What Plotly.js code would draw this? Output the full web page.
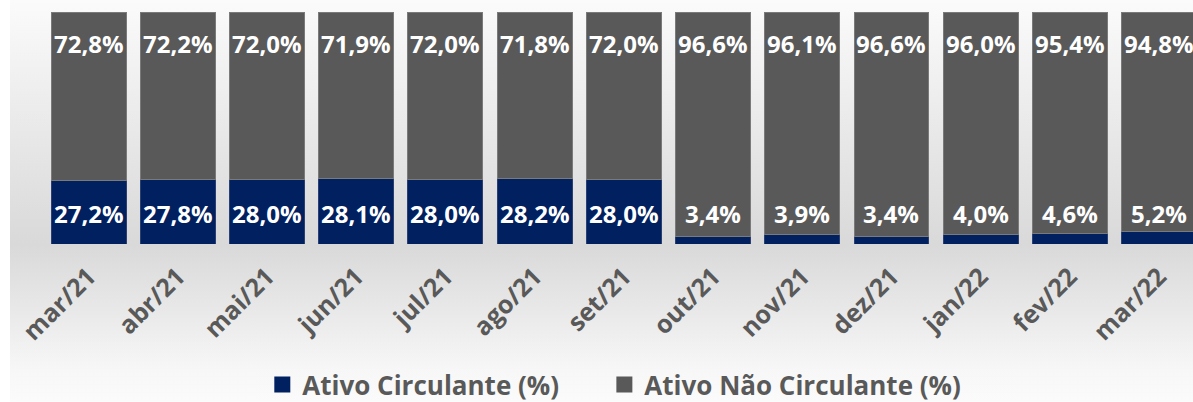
<!DOCTYPE html>
<html>
<head>
<meta charset="utf-8">
<script src="https://cdn.plot.ly/plotly-3.0.1.min.js"></script>
<style>
html,body{margin:0;padding:0;background:#ffffff;}
#chart{width:1193px;height:402px;
background:
 linear-gradient(to right,#ffffff 0,#ffffff 10px,rgba(255,255,255,0) 10px),
 linear-gradient(to bottom,#fbfbfb 0px,#eaeaea 120px,#d9d9d9 245px,#e6e6e6 300px,#f7f7f7 370px,#fbfbfb 402px);}
</style>
</head>
<body>
<div id="chart"></div>
<script>
const months = ["mar/21","abr/21","mai/21","jun/21","jul/21","ago/21","set/21","out/21","nov/21","dez/21","jan/22","fev/22","mar/22"];
const ativoCirculante = [27.2,27.8,28.0,28.1,28.0,28.2,28.0,3.4,3.9,3.4,4.0,4.6,5.2];
const ativoNaoCirculante = [72.8,72.2,72.0,71.9,72.0,71.8,72.0,96.6,96.1,96.6,96.0,95.4,94.8];
const seriesNames = ['Ativo Circulante (%)','Ativo Não Circulante (%)'];

const fmt = v => v.toFixed(1).replace('.', ',') + '%';
const labelFont = {family:'"Open Sans", sans-serif', size:24, color:'#ffffff', weight:700};
const gray = '#595959', navy = '#002060';
const legendFont = {family:'"Open Sans", sans-serif', size:26, color:gray, weight:700};

const traces = [
 {type:'bar', name:seriesNames[0], x:months, y:ativoCirculante, showlegend:false,
  marker:{color:navy, line:{color:'#2a3f73', width:1}}, hoverinfo:'skip'},
 {type:'bar', name:seriesNames[1], x:months, y:ativoNaoCirculante, showlegend:false,
  marker:{color:gray, line:{color:'#7a7a7a', width:1}}, hoverinfo:'skip'},
 // legend entries with larger square symbols
 {type:'scatter', mode:'markers', name:seriesNames[0], x:[null], y:[null], legend:'legend',
  marker:{symbol:'square', size:16, color:navy}, hoverinfo:'skip'},
 {type:'scatter', mode:'markers', name:seriesNames[1], x:[null], y:[null], legend:'legend2',
  marker:{symbol:'square', size:16, color:gray}, hoverinfo:'skip'}
];

const annotations = [];
months.forEach((m,i)=>{
 annotations.push({x:m, y:0, xref:'x', yref:'y', yshift:31, yanchor:'middle', xanchor:'center',
   text:'<b>'+fmt(ativoCirculante[i])+'</b>', showarrow:false, font:labelFont});
 annotations.push({x:m, y:100, xref:'x', yref:'y', yshift:-31, yanchor:'middle', xanchor:'center',
   text:'<b>'+fmt(ativoNaoCirculante[i])+'</b>', showarrow:false, font:labelFont});
});

const layout = {
 width:1193, height:402,
 margin:{l:44, r:0, t:12, b:158, autoexpand:false},
 paper_bgcolor:'rgba(0,0,0,0)', plot_bgcolor:'rgba(0,0,0,0)',
 barmode:'stack', bargap:0.16,
 showlegend:true,
 legend:{orientation:'h', x:0.19, xanchor:'left', yref:'container', y:0.043, yanchor:'middle',
   font:legendFont, bgcolor:'rgba(0,0,0,0)'},
 legend2:{orientation:'h', x:0.4877, xanchor:'left', yref:'container', y:0.043, yanchor:'middle',
   font:legendFont, bgcolor:'rgba(0,0,0,0)'},
 xaxis:{type:'category', range:[-0.5,12.38], tickangle:-45, showgrid:false, zeroline:false,
   showline:false, ticks:'', ticklabelstandoff:12,
   tickfont:{family:'"Open Sans", sans-serif', size:25, color:gray, weight:700}},
 yaxis:{range:[0,100], visible:false, fixedrange:true},
 annotations:annotations
};

Plotly.newPlot('chart', traces, layout, {displayModeBar:false, staticPlot:true});
</script>
</body>
</html>
